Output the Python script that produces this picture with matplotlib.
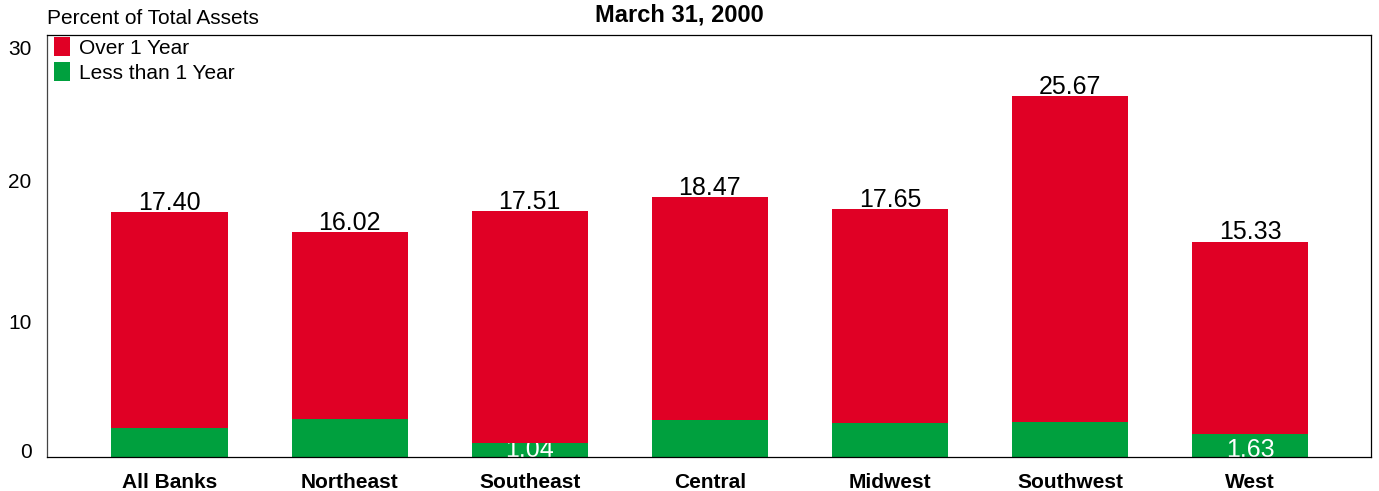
import matplotlib
matplotlib.use("Agg")
import matplotlib.pyplot as plt
import matplotlib.transforms as mtransforms
from matplotlib.patches import Patch

plt.rcParams['font.family'] = ['Liberation Sans', 'DejaVu Sans']

categories = ["All Banks", "Northeast", "Southeast", "Central", "Midwest", "Southwest", "West"]
total_values = [17.40, 16.02, 17.51, 18.47, 17.65, 25.67, 15.33]
less_than_1yr = [2.07, 2.71, 1.04, 2.64, 2.43, 2.52, 1.63]
over_1yr = [t - l for t, l in zip(total_values, less_than_1yr)]
green_labels = {2: "1.04", 6: "1.63"}
yticks = [0, 10, 20, 30]

RED = '#E00025'
GREEN = '#00A03E'

fig = plt.figure(figsize=(13.79, 4.91), dpi=100)
ax = fig.add_axes([47/1379, (491-457.3)/491, (1371-47)/1379, (457.3-35)/491])

x = list(range(len(categories)))
w = 0.645
ax.bar(x, less_than_1yr, width=w, color=GREEN, zorder=1)
ax.bar(x, over_1yr, bottom=less_than_1yr, width=w, color=RED, zorder=3)

for i, t in enumerate(total_values):
    ax.annotate(f"{t:.2f}", (i, t), xytext=(0, 1.5), textcoords='offset points',
                ha='center', va='baseline', fontsize=18, color='black', zorder=4)
for i, s in green_labels.items():
    ax.text(i, 0.52, s, ha='center', va='center', fontsize=18, color='white', zorder=2)

ax.set_xlim(-0.68, 6.67)
ax.set_ylim(0, 30)
ax.set_xticks(x)
ax.set_xticklabels(categories, fontsize=15, fontweight='bold')
ax.set_yticks(yticks)
ax.set_yticklabels([str(v) for v in yticks], fontsize=15)
ax.tick_params(axis='both', length=0)
ax.tick_params(axis='x', pad=11)
ax.tick_params(axis='y', pad=11)
labs = ax.get_yticklabels()
labs[0].set_va('bottom')
labs[-1].set_va('top')
offset = mtransforms.ScaledTranslation(0, -5/100, fig.dpi_scale_trans)
for lab in labs:
    lab.set_transform(lab.get_transform() + offset)

for sp in ax.spines.values():
    sp.set_linewidth(0.9)
    sp.set_color('black')
ax.spines['left'].set_color('#444444')

handles = [Patch(facecolor=RED, edgecolor='none', label='Over 1 Year'),
           Patch(facecolor=GREEN, edgecolor='none', label='Less than 1 Year')]
ax.legend(handles=handles, loc='upper left', bbox_to_anchor=(0.0053, 0.995), frameon=False,
          fontsize=15, handlelength=0.75, handleheight=1.05, handletextpad=0.45,
          labelspacing=0.2, borderaxespad=0.0, borderpad=0.0)

fig.text(47/1379, 1 - 18/491, "Percent of Total Assets", fontsize=15, ha='left', va='center')
fig.text(679/1379, 1 - 15/491, "March 31, 2000", fontsize=17, fontweight='bold', ha='center', va='center')

fig.savefig("out.png", dpi=100)
